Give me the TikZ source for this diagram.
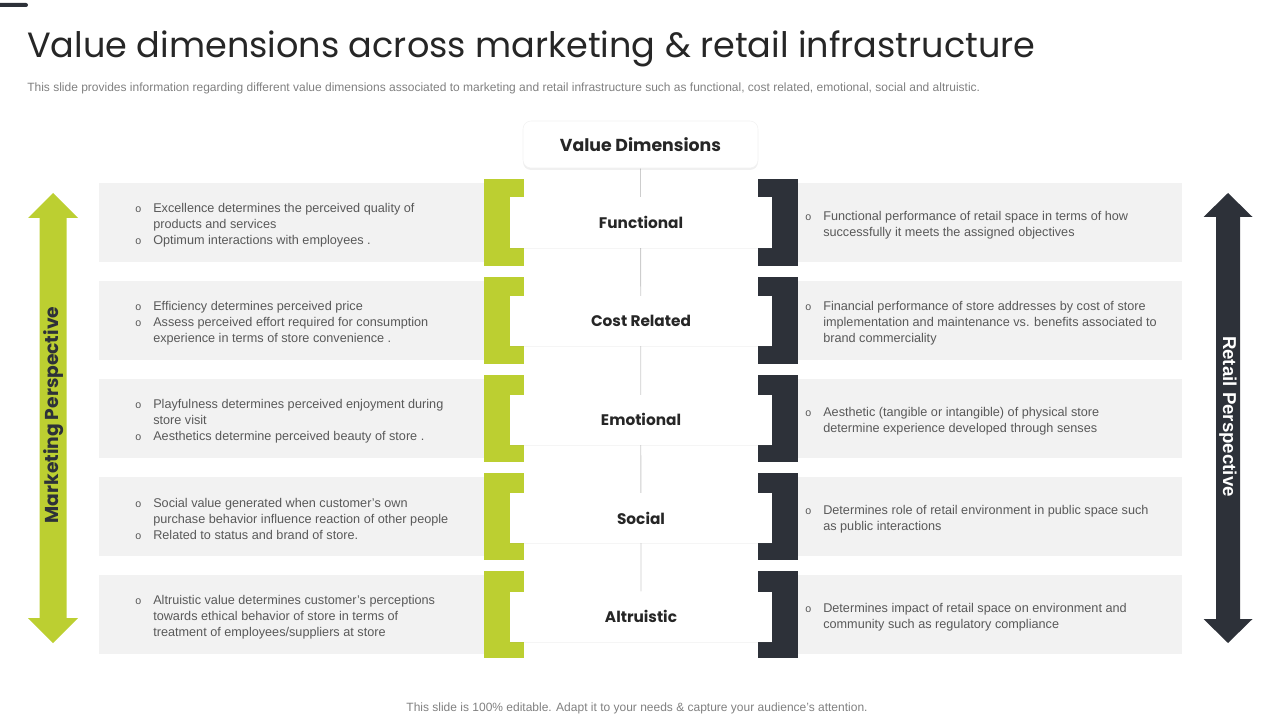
\documentclass[tikz,border=0pt]{standalone}
\usepackage{fontspec}
\setmainfont{Liberation Sans}
\newfontfamily\headfont{Poppins}
\usetikzlibrary{positioning,shadows,backgrounds}
\definecolor{limebar}{RGB}{188,207,49}
\definecolor{darkbar}{RGB}{45,49,57}
\definecolor{panelgray}{RGB}{242,242,242}
\definecolor{bodygray}{RGB}{89,89,89}
\definecolor{notegray}{RGB}{128,128,128}
\definecolor{linegray}{RGB}{205,205,205}
\definecolor{titlegray}{RGB}{38,38,38}
\newcommand{\itm}{\makebox[13.5pt][l]{\fontsize{8}{8}\selectfont o}}
\newcommand{\cnt}{\hspace*{13.5pt}}
\tikzset{
  topbar/.style={rectangle,rounded corners=1.5pt,fill=darkbar,minimum width=24pt,minimum height=3pt,inner sep=0pt},
  titletxt/.style={anchor=base west,inner sep=0pt,text=titlegray,font=\headfont\fontsize{26.3}{30}\selectfont},
  subtxt/.style={anchor=base west,inner sep=0pt,text=notegray,font=\fontsize{9}{11}\selectfont},
  notetxt/.style={anchor=base,inner sep=0pt,text=notegray,font=\fontsize{9}{11}\selectfont},
  sidelabel/.style={inner sep=0pt,font=\bfseries\fontsize{14}{16}\selectfont},
  panel/.style={rectangle,fill=panelgray,minimum height=59.25pt,inner sep=0pt},
  greenbr/.style={rectangle,fill=limebar,minimum width=30pt,minimum height=65.25pt,inner sep=0pt},
  darkbr/.style={rectangle,fill=darkbar,minimum width=30pt,minimum height=65.25pt,inner sep=0pt},
  headbox/.style={rectangle,rounded corners=6pt,fill=white,draw=black!5,minimum width=176.25pt,minimum height=35.25pt,
    font=\headfont\bfseries\fontsize{13}{15}\selectfont,text=titlegray,
    drop shadow={opacity=0.12,shadow xshift=0pt,shadow yshift=-1.5pt}},
  dimbox/.style={rectangle,fill=white,minimum width=196.5pt,minimum height=37.5pt,
    font=\headfont\bfseries\fontsize{11.5}{14}\selectfont,text=titlegray,
    drop shadow={opacity=0.08,shadow xshift=0pt,shadow yshift=-1pt}},
  ltxt/.style={anchor=west,align=left,inner sep=0pt,text=bodygray,font=\fontsize{9.5}{12}\selectfont},
  vline/.style={draw=linegray,line width=0.6pt}
}
\begin{document}
\begin{tikzpicture}[x=0.75pt,y=-0.75pt,node distance=36pt]
  \useasboundingbox (0,0) rectangle (1280,720);
  \node[topbar] (bar) at (12,5) {};
  \node[titletxt] (title) at (27,58) {Value dimensions across marketing \& retail infrastructure};
  \node[subtxt] (sub) at (27,92) {This slide provides information regarding different value dimensions associated to marketing and retail infrastructure such as functional, cost related, emotional, social and altruistic.};
  % perspective arrows
  \fill[limebar] (53,193) -- (78,218) -- (66.5,218) -- (66.5,618) -- (78,618) -- (53,643)
    -- (28,618) -- (39.5,618) -- (39.5,218) -- (28,218) -- cycle;
  \fill[darkbar] (1228,193) -- (1252.5,217) -- (1240,217) -- (1240,619) -- (1252.5,619) -- (1228,643)
    -- (1203.5,619) -- (1216,619) -- (1216,217) -- (1203.5,217) -- cycle;
  \node[sidelabel,text=darkbar,rotate=90,font=\headfont\bfseries\fontsize{14}{16}\selectfont] (mkt) at (54,415) {Marketing Perspective};
  \node[sidelabel,text=white,rotate=-90] (ret) at (1228,416.5) {Retail Perspective};
  % gray panels
  \node[panel,minimum width=293.25pt] (lp1) at (294.5,222.5) {};
  \node[panel,minimum width=293.25pt] (lp2) at (294.5,320.5) {};
  \node[panel,minimum width=293.25pt] (lp3) at (294.5,418.5) {};
  \node[panel,minimum width=293.25pt] (lp4) at (294.5,516.5) {};
  \node[panel,minimum width=293.25pt] (lp5) at (294.5,614.5) {};
  \node[panel,minimum width=292.5pt] (rp1) at (987,222.5) {};
  \node[panel,minimum width=292.5pt] (rp2) at (987,320.5) {};
  \node[panel,minimum width=292.5pt] (rp3) at (987,418.5) {};
  \node[panel,minimum width=292.5pt] (rp4) at (987,516.5) {};
  \node[panel,minimum width=292.5pt] (rp5) at (987,614.5) {};
  % brackets
  \node[greenbr] (gb1) at (504,222.5) {};
  \node[greenbr] (gb2) at (504,320.5) {};
  \node[greenbr] (gb3) at (504,418.5) {};
  \node[greenbr] (gb4) at (504,516.5) {};
  \node[greenbr] (gb5) at (504,614.5) {};
  \node[darkbr] (db1) at (778,222.5) {};
  \node[darkbr] (db2) at (778,320.5) {};
  \node[darkbr] (db3) at (778,418.5) {};
  \node[darkbr] (db4) at (778,516.5) {};
  \node[darkbr] (db5) at (778,614.5) {};
  % centre column
  \node[headbox] (vd) at (640.5,144.5) {Value Dimensions};
  \node[dimbox] (dim1) at (641,222.5) {Functional};
  \node[dimbox,below=of dim1] (dim2) {Cost Related};
  \node[dimbox,below=of dim2] (dim3) {Emotional};
  \node[dimbox,below=of dim3] (dim4) {Social};
  \node[dimbox,below=of dim4] (dim5) {Altruistic};
  \begin{scope}[on background layer]
    \draw[vline] (vd.south) -- (dim5.north);
  \end{scope}
  % marketing side
  \node[ltxt] (lt1) at (135,225) {\itm Excellence determines the perceived quality of\\\cnt products and services\\\itm Optimum interactions with employees .};
  \node[ltxt] (lt2) at (135,323) {\itm Efficiency determines perceived price\\\itm Assess perceived effort required for consumption\\\cnt experience in terms of store convenience .};
  \node[ltxt] (lt3) at (135,421) {\itm Playfulness determines perceived enjoyment during\\\cnt store visit\\\itm Aesthetics determine perceived beauty of store .};
  \node[ltxt] (lt4) at (135,519) {\itm Social value generated when customer’s own\\\cnt purchase behavior influence reaction of other people\\\itm Related to status and brand of store.};
  \node[ltxt] (lt5) at (135,617) {\itm Altruistic value determines customer’s perceptions\\\cnt towards ethical behavior of store in terms of\\\cnt treatment of employees/suppliers at store};
  % retail side
  \node[ltxt] (rt1) at (805,225) {\itm Functional performance of retail space in terms of how\\\cnt successfully it meets the assigned objectives};
  \node[ltxt] (rt2) at (805,323) {\itm Financial performance of store addresses by cost of store\\\cnt implementation and maintenance vs. benefits associated to\\\cnt brand commerciality};
  \node[ltxt] (rt3) at (805,421) {\itm Aesthetic (tangible or intangible) of physical store\\\cnt determine experience developed through senses};
  \node[ltxt] (rt4) at (805,519) {\itm Determines role of retail environment in public space such\\\cnt as public interactions};
  \node[ltxt] (rt5) at (805,617) {\itm Determines impact of retail space on environment and\\\cnt community such as regulatory compliance};
  \node[notetxt] (note) at (637,711) {This slide is 100\% editable. Adapt it to your needs \& capture your audience’s attention.};
\end{tikzpicture}
\end{document}
